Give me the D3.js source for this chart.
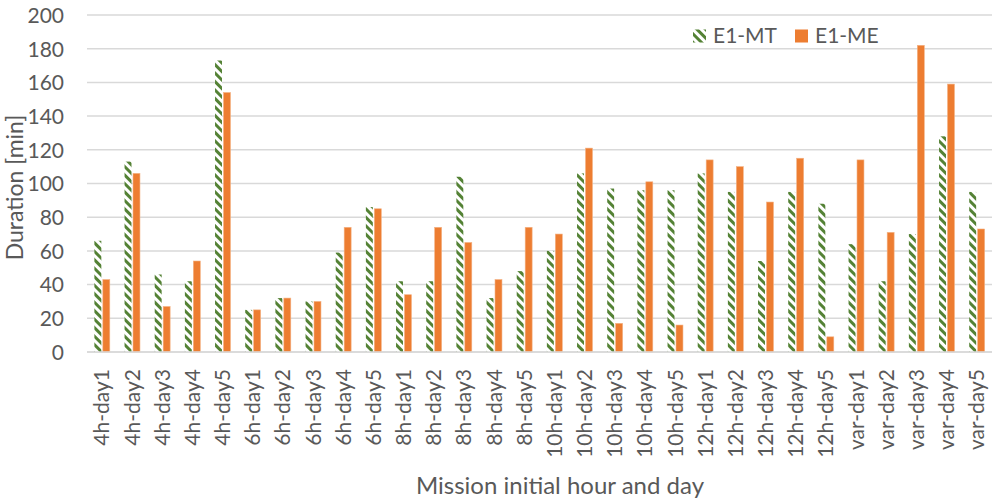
<!DOCTYPE html>
<html>
<head>
<meta charset="utf-8">
<script src="https://cdn.jsdelivr.net/npm/d3@7"></script>
<style>
  html, body { margin: 0; padding: 0; background: #fff; }
  svg { display: block; font-family: Lato, "Open Sans", sans-serif; }
</style>
</head>
<body>
<svg id="chart" width="992" height="499"></svg>
<script>
// Mission categories (initial hour and day)
const categories = [
  "4h-day1","4h-day2","4h-day3","4h-day4","4h-day5",
  "6h-day1","6h-day2","6h-day3","6h-day4","6h-day5",
  "8h-day1","8h-day2","8h-day3","8h-day4","8h-day5",
  "10h-day1","10h-day2","10h-day3","10h-day4","10h-day5",
  "12h-day1","12h-day2","12h-day3","12h-day4","12h-day5",
  "var-day1","var-day2","var-day3","var-day4","var-day5"
];
// Durations in minutes
const mtValues = [66,113,46,42,173, 25,32,30,59,86, 42,42,104,32,48, 60,106,97,96,96, 106,95,54,95,88, 64,42,70,128,95];
const meValues = [43,106,27,54,154, 25,32,30,74,85, 34,74,65,43,74, 70,121,17,101,16, 114,110,89,115,9, 114,71,182,159,73];
const seriesNames = ["E1-MT", "E1-ME"];
const yTicks = [0,20,40,60,80,100,120,140,160,180,200];

const svg = d3.select("#chart");
const margin = { left: 87, right: 992, top: 15, bottom: 352 };

// Diagonal stripe fill for the E1-MT series
const defs = svg.append("defs");
const pat = defs.append("pattern")
  .attr("id", "stripes")
  .attr("patternUnits", "userSpaceOnUse")
  .attr("width", 6).attr("height", 6)
  .attr("patternTransform", "rotate(-45)");
pat.append("rect").attr("width", 6).attr("height", 6).attr("fill", "#ffffff");
pat.append("rect").attr("x", 0).attr("width", 3).attr("height", 6).attr("fill", "#548235");

const x = d3.scaleBand().domain(categories).range([margin.left, margin.right]).paddingInner(0).paddingOuter(0);
const xs = d3.scaleBand().domain(seriesNames).range([0, x.bandwidth()]).paddingInner(0.18).paddingOuter(0.87);
const y = d3.scaleLinear().domain([0, 200]).range([margin.bottom, margin.top]);

// Horizontal gridlines
svg.append("g")
  .selectAll("line")
  .data(yTicks)
  .join("line")
  .attr("x1", margin.left).attr("x2", margin.right)
  .attr("y1", d => y(d)).attr("y2", d => y(d))
  .attr("stroke", "#d9d9d9").attr("stroke-width", 1.5);

// Y axis tick labels
const yAxis = d3.axisLeft(y).tickValues(yTicks).tickSize(0).tickPadding(0);
const gy = svg.append("g").attr("transform", `translate(64,0)`).call(yAxis);
gy.select(".domain").remove();
gy.selectAll("text")
  .attr("font-family", "Lato, 'Open Sans', sans-serif")
  .attr("font-size", 21).attr("fill", "#595959")
  .attr("dy", "0.35em");

// Bars
const rows = categories.map((c, i) => ({ cat: c, vals: [mtValues[i], meValues[i]] }));
const groups = svg.append("g").selectAll("g")
  .data(rows).join("g")
  .attr("transform", d => `translate(${x(d.cat)},0)`);
groups.selectAll("rect")
  .data(d => d.vals.map((v, k) => ({ name: seriesNames[k], v })))
  .join("rect")
  .attr("x", d => xs(d.name))
  .attr("width", xs.bandwidth())
  .attr("y", d => y(d.v))
  .attr("height", d => y(0) - y(d.v))
  .attr("fill", d => d.name === "E1-MT" ? "url(#stripes)" : "#ed7d31")
  .attr("stroke", d => d.name === "E1-MT" ? "none" : "#f4b183")
  .attr("stroke-width", 0.6);

// Baseline
svg.append("line")
  .attr("x1", margin.left).attr("x2", margin.right)
  .attr("y1", y(0)).attr("y2", y(0))
  .attr("stroke", "#d9d9d9").attr("stroke-width", 1.5);

// X axis category labels (rotated)
const xAxis = d3.axisBottom(x).tickSize(0).tickPadding(0);
const gx = svg.append("g").attr("transform", `translate(0,${y(0) + 17})`).call(xAxis);
gx.select(".domain").remove();
gx.selectAll("text")
  .attr("font-family", "Lato, 'Open Sans', sans-serif")
  .attr("font-size", 21).attr("fill", "#595959")
  .attr("text-anchor", "end")
  .attr("transform", "rotate(-90)")
  .attr("x", 0).attr("y", 0).attr("dy", "0.35em");

// Axis titles
svg.append("text")
  .attr("transform", `translate(15,${(margin.top + margin.bottom) / 2 + 4}) rotate(-90)`)
  .attr("text-anchor", "middle").attr("dy", "0.35em")
  .attr("font-size", 23).attr("fill", "#595959")
  .text("Duration [min]");
svg.append("text")
  .attr("x", 560).attr("y", 486)
  .attr("text-anchor", "middle").attr("dy", "0.35em")
  .attr("font-size", 24).attr("fill", "#595959")
  .text("Mission initial hour and day");

// Legend
const legend = svg.append("g").attr("transform", "translate(693,36)");
const items = legend.selectAll("g").data(seriesNames).join("g")
  .attr("transform", (d, i) => `translate(${i * 102},0)`);
items.append("rect")
  .attr("x", 0).attr("y", -6.5).attr("width", 13).attr("height", 13)
  .attr("fill", d => d === "E1-MT" ? "url(#stripes)" : "#ed7d31");
items.append("text")
  .attr("x", 20).attr("dy", "0.35em")
  .attr("font-size", 21).attr("fill", "#595959")
  .text(d => d);
</script>
</body>
</html>
